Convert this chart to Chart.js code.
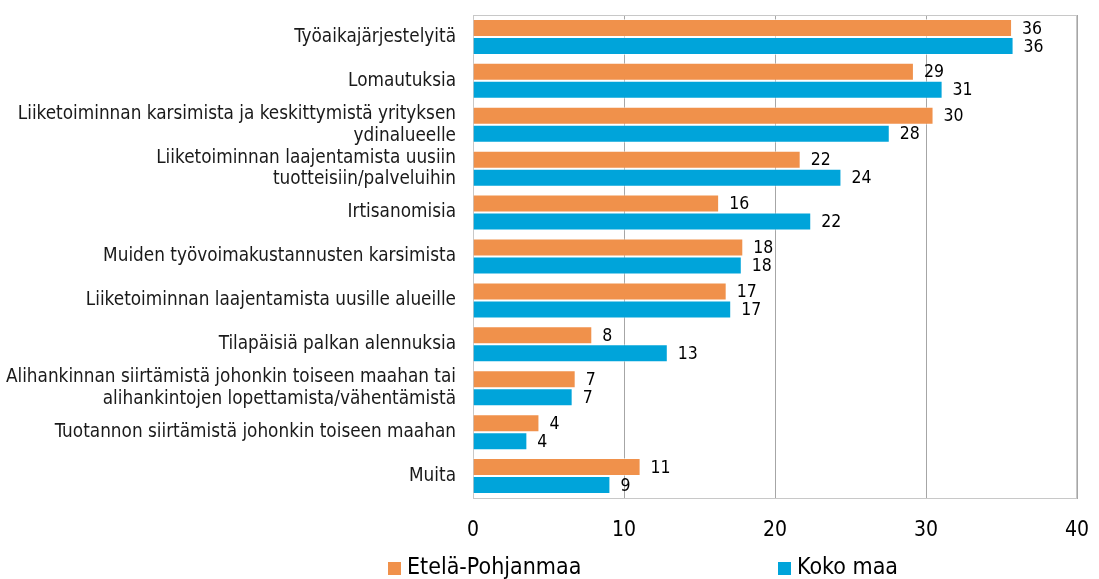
<!DOCTYPE html>
<html>
<head>
<meta charset="utf-8">
<script src="https://cdn.jsdelivr.net/npm/chart.js@4/dist/chart.umd.min.js"></script>
<style>
  html, body { margin: 0; padding: 0; background: #ffffff; }
  #wrap { width: 1099px; height: 579px; }
</style>
</head>
<body>
<div id="wrap"><canvas id="c" width="1099" height="579"></canvas></div>
<script>
const categories = [
  "Työaikajärjestelyitä",
  "Lomautuksia",
  ["Liiketoiminnan karsimista ja keskittymistä yrityksen", "ydinalueelle"],
  ["Liiketoiminnan laajentamista uusiin", "tuotteisiin/palveluihin"],
  "Irtisanomisia",
  "Muiden työvoimakustannusten karsimista",
  "Liiketoiminnan laajentamista uusille alueille",
  "Tilapäisiä palkan alennuksia",
  ["Alihankinnan siirtämistä johonkin toiseen maahan tai", "alihankintojen lopettamista/vähentämistä"],
  "Tuotannon siirtämistä johonkin toiseen maahan",
  "Muita"
];
const seriesNames = ["Etelä-Pohjanmaa", "Koko maa"];
const etelaValues = [35.7, 29.2, 30.5, 21.7, 16.3, 17.9, 16.8, 7.9, 6.8, 4.4, 11.1];
const kokoValues  = [35.8, 31.1, 27.6, 24.4, 22.4, 17.8, 17.1, 12.9, 6.6, 3.6, 9.1];
const etelaLabels = ["36", "29", "30", "22", "16", "18", "17", "8", "7", "4", "11"];
const kokoLabels  = ["36", "31", "28", "24", "22", "18", "17", "13", "7", "4", "9"];
const xTicks = [0, 10, 20, 30, 40];

const FONT = "'DejaVu Sans Condensed', 'DejaVu Sans', sans-serif";
const ORANGE = "#F0914B";
const BLUE = "#00A4DA";

const areaBorder = {
  id: 'areaBorder',
  beforeDatasetsDraw(chart) {
    const { ctx, chartArea: a } = chart;
    ctx.save();
    ctx.strokeStyle = '#C8C8C8';
    ctx.lineWidth = 1;
    ctx.strokeRect(a.left + 0.5, a.top + 0.5, a.right - a.left - 1, a.bottom - a.top);
    ctx.restore();
  }
};

const valueLabels = {
  id: 'valueLabels',
  afterDatasetsDraw(chart) {
    const { ctx } = chart;
    ctx.save();
    ctx.font = "17.5px " + FONT;
    ctx.fillStyle = '#000';
    ctx.textAlign = 'left';
    ctx.textBaseline = 'middle';
    chart.data.datasets.forEach((ds, di) => {
      const meta = chart.getDatasetMeta(di);
      meta.data.forEach((el, i) => {
        ctx.fillText(ds.shownLabels[i], el.x + 10, el.y + 1);
      });
    });
    ctx.restore();
  }
};

const bottomLegend = {
  id: 'bottomLegend',
  afterDraw(chart) {
    const { ctx } = chart;
    const itemX = [388, 778];
    const cy = 568;
    ctx.save();
    ctx.font = "23px " + FONT;
    ctx.textAlign = 'left';
    ctx.textBaseline = 'middle';
    chart.data.datasets.forEach((ds, di) => {
      ctx.fillStyle = ds.backgroundColor;
      ctx.fillRect(itemX[di], cy - 6, 13, 13);
      ctx.fillStyle = '#000';
      ctx.fillText(ds.label, itemX[di] + 19, cy);
    });
    ctx.restore();
  }
};

new Chart(document.getElementById('c'), {
  type: 'bar',
  data: {
    labels: categories,
    datasets: [
      { label: seriesNames[0], data: etelaValues, shownLabels: etelaLabels,
        backgroundColor: ORANGE, borderColor: 'rgba(255,255,255,0.55)', borderWidth: 1 },
      { label: seriesNames[1], data: kokoValues, shownLabels: kokoLabels,
        backgroundColor: BLUE, borderColor: 'rgba(255,255,255,0.55)', borderWidth: 1 }
    ]
  },
  options: {
    indexAxis: 'y',
    responsive: false,
    animation: false,
    devicePixelRatio: 1,
    categoryPercentage: 0.82,
    barPercentage: 1.0,
    layout: { padding: { left: 0, right: 22, top: 15, bottom: 36 } },
    plugins: {
      legend: { display: false },
      tooltip: { enabled: false }
    },
    scales: {
      x: {
        min: 0, max: 40,
        afterBuildTicks(scale) { scale.ticks = xTicks.map(v => ({ value: v })); },
        afterFit(scale) { scale.height = 45; scale.paddingLeft = 0; scale.paddingRight = 0; },
        grid: { color: '#A6A6A6', lineWidth: 1, drawTicks: false },
        border: { display: true, color: '#A6A6A6' },
        ticks: { color: '#000', padding: 20, font: { family: FONT, size: 21 } }
      },
      y: {
        afterFit(scale) { scale.width = 473; scale.paddingTop = 0; scale.paddingBottom = 0; },
        grid: { display: false, drawTicks: false },
        border: { display: true, color: '#A6A6A6' },
        ticks: { autoSkip: false, color: '#1a1a1a', padding: 17, font: { family: FONT, size: 18.8, lineHeight: 1.16 } }
      }
    }
  },
  plugins: [areaBorder, valueLabels, bottomLegend]
});
</script>
</body>
</html>
